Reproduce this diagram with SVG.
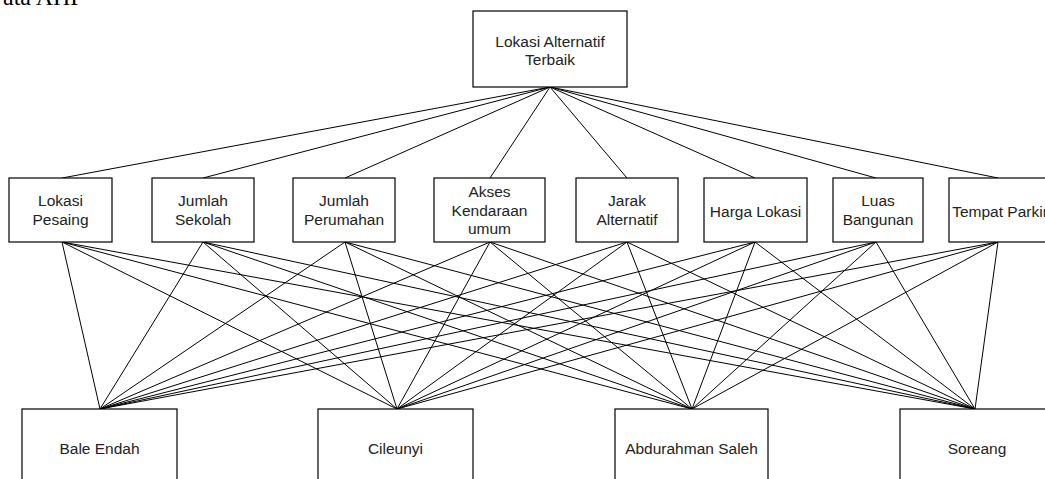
<svg xmlns="http://www.w3.org/2000/svg" width="1045" height="479" viewBox="0 0 1045 479">
<style>
.box{fill:#fff;stroke:#000;stroke-width:1.2}
.t{font-family:"Liberation Sans",Arial,sans-serif;font-size:15.5px;fill:#222;text-anchor:middle}
.c line{stroke:#000;stroke-width:1}
</style>
<rect width="1045" height="479" fill="#fff"/>
<text x="3" y="5" font-family="Liberation Serif,serif" font-size="24" fill="#000">ata AHP</text>
<g class="c" id="connectors">
<line x1="550" y1="87" x2="62" y2="178"/>
<line x1="550" y1="87" x2="203" y2="178"/>
<line x1="550" y1="87" x2="345" y2="178"/>
<line x1="550" y1="87" x2="490" y2="178"/>
<line x1="550" y1="87" x2="627" y2="178"/>
<line x1="550" y1="87" x2="755" y2="178"/>
<line x1="550" y1="87" x2="876" y2="178"/>
<line x1="550" y1="87" x2="998" y2="178"/>
<line x1="62" y1="242" x2="100" y2="409"/><line x1="62" y1="242" x2="397" y2="409"/><line x1="62" y1="242" x2="692" y2="409"/><line x1="62" y1="242" x2="975" y2="409"/>
<line x1="203" y1="242" x2="100" y2="409"/><line x1="203" y1="242" x2="397" y2="409"/><line x1="203" y1="242" x2="692" y2="409"/><line x1="203" y1="242" x2="975" y2="409"/>
<line x1="345" y1="242" x2="100" y2="409"/><line x1="345" y1="242" x2="397" y2="409"/><line x1="345" y1="242" x2="692" y2="409"/><line x1="345" y1="242" x2="975" y2="409"/>
<line x1="490" y1="242" x2="100" y2="409"/><line x1="490" y1="242" x2="397" y2="409"/><line x1="490" y1="242" x2="692" y2="409"/><line x1="490" y1="242" x2="975" y2="409"/>
<line x1="627" y1="242" x2="100" y2="409"/><line x1="627" y1="242" x2="397" y2="409"/><line x1="627" y1="242" x2="692" y2="409"/><line x1="627" y1="242" x2="975" y2="409"/>
<line x1="755" y1="242" x2="100" y2="409"/><line x1="755" y1="242" x2="397" y2="409"/><line x1="755" y1="242" x2="692" y2="409"/><line x1="755" y1="242" x2="975" y2="409"/>
<line x1="876" y1="242" x2="100" y2="409"/><line x1="876" y1="242" x2="397" y2="409"/><line x1="876" y1="242" x2="692" y2="409"/><line x1="876" y1="242" x2="975" y2="409"/>
<line x1="998" y1="242" x2="100" y2="409"/><line x1="998" y1="242" x2="397" y2="409"/><line x1="998" y1="242" x2="692" y2="409"/><line x1="998" y1="242" x2="975" y2="409"/>
</g>
<g id="goal"><rect class="box" x="473" y="11" width="154" height="76"/><text class="t" x="550" y="47">Lokasi Alternatif</text><text class="t" x="550" y="65">Terbaik</text></g>
<g id="c1"><rect class="box" x="9" y="178" width="103" height="64"/><text class="t" x="60.5" y="206">Lokasi</text><text class="t" x="60.5" y="225">Pesaing</text></g>
<g id="c2"><rect class="box" x="152" y="178" width="102" height="64"/><text class="t" x="203" y="206">Jumlah</text><text class="t" x="203" y="225">Sekolah</text></g>
<g id="c3"><rect class="box" x="293" y="178" width="102" height="64"/><text class="t" x="344" y="206">Jumlah</text><text class="t" x="344" y="225">Perumahan</text></g>
<g id="c4"><rect class="box" x="434" y="178" width="111" height="64"/><text class="t" x="489.5" y="197">Akses</text><text class="t" x="489.5" y="216">Kendaraan</text><text class="t" x="489.5" y="234">umum</text></g>
<g id="c5"><rect class="box" x="576" y="178" width="102" height="64"/><text class="t" x="627" y="206">Jarak</text><text class="t" x="627" y="225">Alternatif</text></g>
<g id="c6"><rect class="box" x="704" y="178" width="103" height="64"/><text class="t" x="755.5" y="217">Harga Lokasi</text></g>
<g id="c7"><rect class="box" x="833" y="178" width="90" height="64"/><text class="t" x="878" y="206">Luas</text><text class="t" x="878" y="225">Bangunan</text></g>
<g id="c8"><rect class="box" x="949" y="178" width="102" height="64"/><text class="t" x="1000" y="217">Tempat Parkir</text></g>
<g id="a1"><rect class="box" x="22" y="409" width="155" height="76"/><text class="t" x="99.5" y="454">Bale Endah</text></g>
<g id="a2"><rect class="box" x="318" y="409" width="155" height="76"/><text class="t" x="395.5" y="454">Cileunyi</text></g>
<g id="a3"><rect class="box" x="615" y="409" width="153" height="76"/><text class="t" x="691.5" y="454">Abdurahman Saleh</text></g>
<g id="a4"><rect class="box" x="900" y="409" width="154" height="76"/><text class="t" x="977" y="454">Soreang</text></g>
</svg>
